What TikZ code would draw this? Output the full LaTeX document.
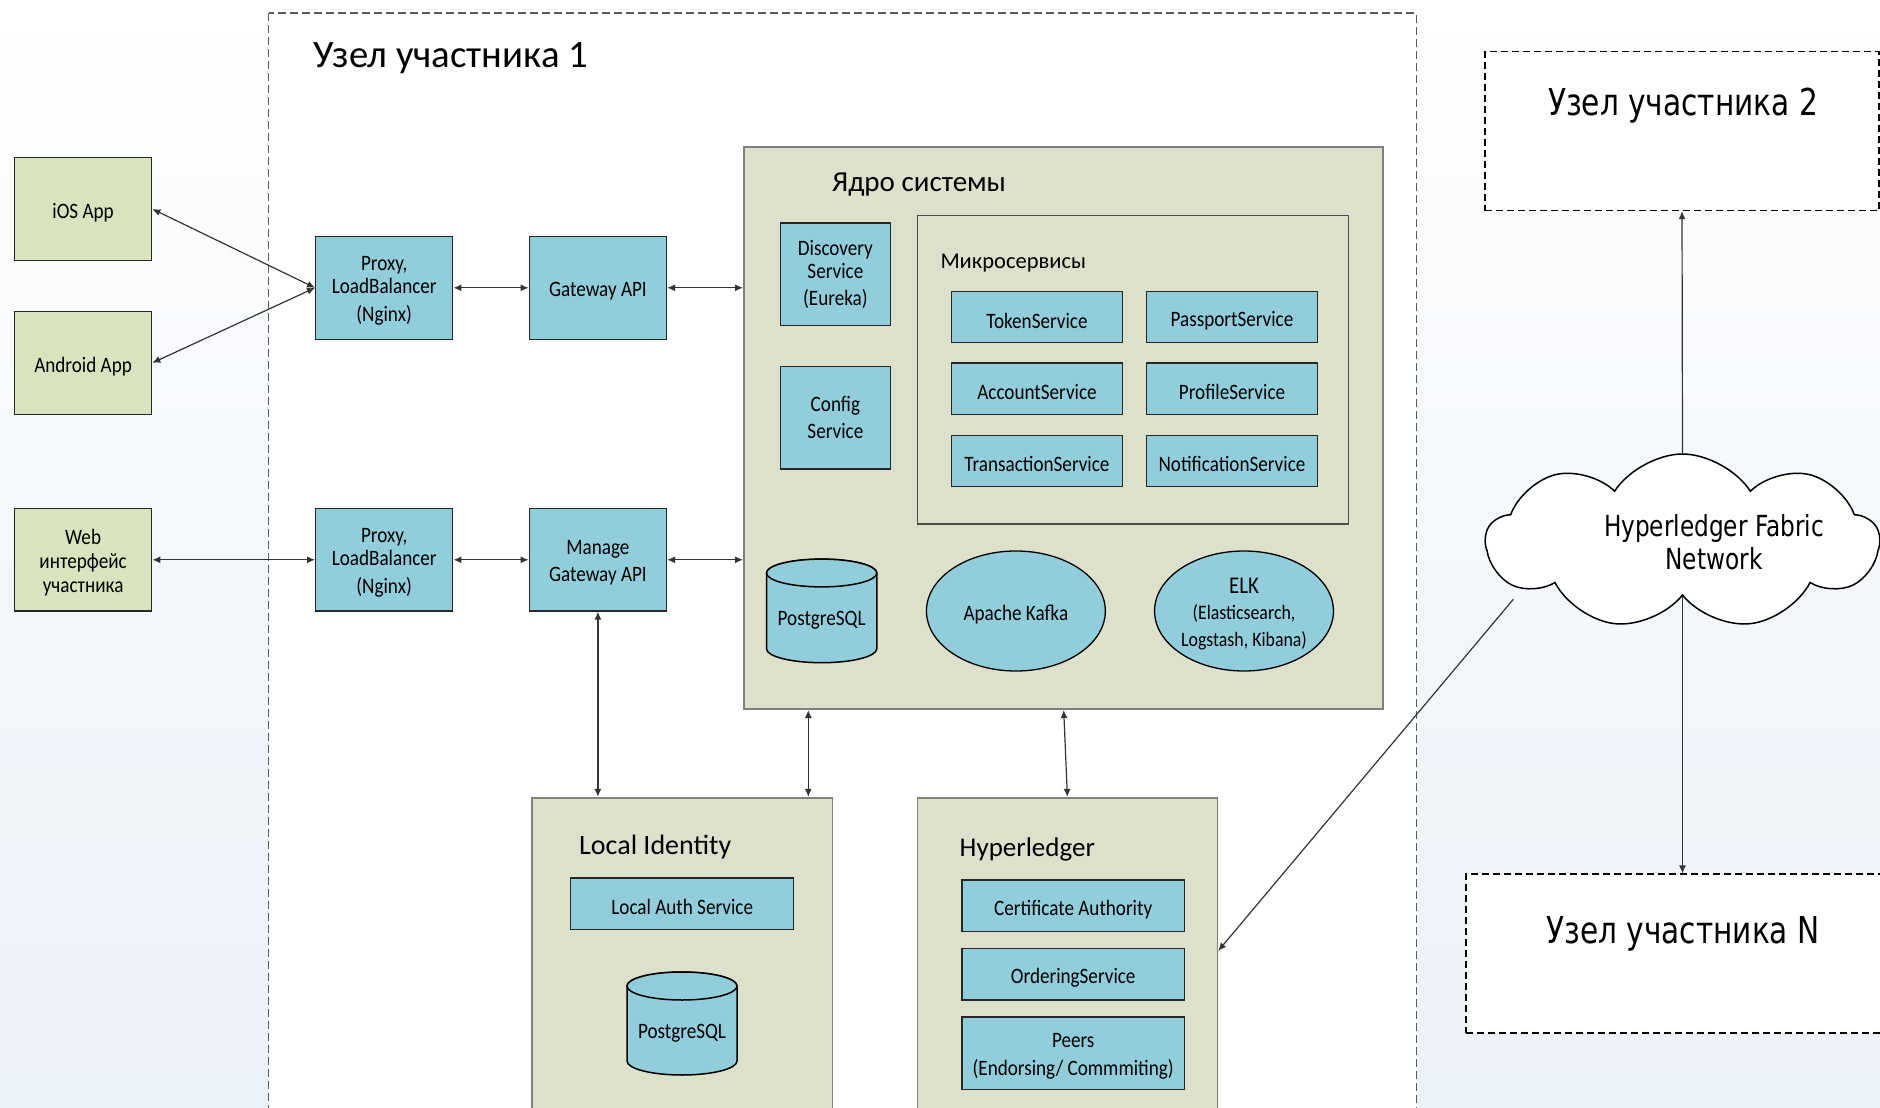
\documentclass[tikz,border=0pt]{standalone}
\usepackage{fontspec}
\setmainfont{Carlito}
\newfontfamily\lab{Carlito}[FakeStretch=0.87]
\newfontfamily\vfont{DejaVu Sans}[FakeStretch=0.8]
\usetikzlibrary{arrows.meta,shapes.symbols,shapes.geometric,calc}
\definecolor{gboxC}{HTML}{D7E4BD}
\definecolor{coreC}{HTML}{DDE0CB}
\definecolor{bboxC}{HTML}{92CDDC}
\definecolor{bgC}{HTML}{ECF2F9}
\tikzset{
  lbl/.style={font=\lab\fontsize{22}{23}\selectfont, align=center},
  tx/.style={label={[lbl, inner sep=0pt, yshift=-3.5pt]center:{#1}}},
  txm/.style={label={[lbl, inner sep=0pt, yshift=-3pt]center:{#1}}},
  gbx/.style={draw=black!85, line width=1.3pt, fill=gboxC, minimum width=137.2pt, minimum height=102.5pt, inner sep=0pt},
  bbx/.style={draw=black!85, line width=1.3pt, fill=bboxC, inner sep=0pt, lbl},
  contbox/.style={draw=black!50, line width=2pt, fill=coreC, inner sep=0pt},
  ttl/.style={inner sep=0pt, anchor=base west},
  cyl/.style={draw=black, line width=1.5pt, fill=bboxC},
  oval/.style={ellipse, draw=black, line width=1.3pt, fill=bboxC, inner sep=0pt, minimum width=178.9pt, minimum height=120pt},
  conn/.style={draw=black!80, line width=1.2pt, {Latex[length=8pt,width=7pt]}-{Latex[length=8pt,width=7pt]}},
  onearr/.style={draw=black!80, line width=1.2pt, -{Latex[length=8pt,width=7pt]}},
  rnode/.style={draw=black, line width=1.1pt, dash pattern=on 7pt off 4pt, fill=white, inner sep=0pt},
  rtitle/.style={font=\vfont\fontsize{37}{40}\selectfont, inner sep=0pt, anchor=base}
}
\begin{document}
\begin{tikzpicture}[x=1pt,y=-1pt]
\useasboundingbox (0,0) rectangle (1880,1108);
\clip (0,0) rectangle (1880,1108);
% background
\fill[top color=white, bottom color=bgC, middle color=white!40!bgC] (0,0) rectangle (1880,1108);
% outer participant node 1
\draw[draw=black!65, line width=1.5pt, dash pattern=on 8pt off 4pt, fill=white] (268.6,13.2) rectangle (1416.7,1130);
\node[ttl, font=\fontsize{38.8}{40}\selectfont] (t1) at (313,67) {Узел участника 1};

% clients
\node[gbx, tx={iOS App}] (ios) at (83.1,209) {};
\node[gbx, tx={Android App}] (android) at (83.1,362.9) {};
\node[gbx, txm={Web\\[1pt]интерфейс\\[1pt]участника}] (web) at (83.1,559.8) {};

% proxies and gateways
\node[bbx, minimum width=137.1pt, minimum height=102.9pt, txm={Proxy,\\LoadBalancer\\[5.6pt](Nginx)}] (px1) at (384.2,287.8) {};
\node[bbx, minimum width=137.2pt, minimum height=102.9pt, tx={Gateway API}] (gw) at (597.9,287.8) {};
\node[bbx, minimum width=137.1pt, minimum height=102.4pt, txm={Proxy,\\LoadBalancer\\[5.6pt](Nginx)}] (px2) at (384.2,559.8) {};
\node[bbx, minimum width=137.2pt, minimum height=102.4pt, txm={Manage\\[4.5pt]Gateway API}] (mg) at (597.9,559.8) {};

% core
\node[contbox, minimum width=638.7pt, minimum height=561.6pt] (core) at (1063.35,428.2) {};
\node[ttl, font=\fontsize{29}{32}\selectfont] (coret) at (832,191) {Ядро системы};
\node[bbx, minimum width=109.9pt, minimum height=102.4pt] (disc) at (835.4,274.1) {Discovery\\Service\\[4pt](Eureka)};
\node[bbx, minimum width=109.9pt, minimum height=102.5pt] (conf) at (835.4,417.7) {Config\\[4.4pt]Service};
\node[draw=black!70, line width=1.3pt, fill=coreC, inner sep=0pt, minimum width=430.6pt, minimum height=308.2pt] (micro) at (1132.9,369.9) {};
\node[ttl, font=\fontsize{22.5}{25}\selectfont] (microt) at (940.3,268.4) {Микросервисы};
\node[bbx, minimum width=171.3pt, minimum height=51.4pt, tx={TokenService}] (tok) at (1037,317) {};
\node[bbx, minimum width=170.8pt, minimum height=51.4pt, tx={PassportService}] (pass) at (1232,317) {};
\node[bbx, minimum width=171.3pt, minimum height=51.5pt, tx={AccountService}] (acc) at (1037,388.75) {};
\node[bbx, minimum width=170.8pt, minimum height=51.5pt, tx={ProfileService}] (prof) at (1232,388.75) {};
\node[bbx, minimum width=171.3pt, minimum height=51.1pt, tx={TransactionService}] (trans) at (1037,460.75) {};
\node[bbx, minimum width=170.8pt, minimum height=51.1pt, tx={NotificationService}] (notif) at (1232,460.75) {};

% postgres 1
\filldraw[cyl] (766.5,573) -- (766.5,648.8) arc[start angle=180,end angle=0,x radius=55.15,y radius=13.9] -- (876.8,573) arc[start angle=0,end angle=-180,x radius=55.15,y radius=13.9] -- cycle;
\filldraw[cyl] (821.65,573) ellipse[x radius=55.15,y radius=13.9];
\node[lbl, inner sep=0pt] (pg1) at (821.65,620) {PostgreSQL};

\node[oval, tx={Apache Kafka}] (kafka) at (1015.9,611) {};
\node[oval, label={[lbl, font=\lab\fontsize{20.5}{26.5}\selectfont, inner sep=0pt, yshift=-3pt]center:{{\fontsize{24}{26.5}\selectfont ELK}\\(Elasticsearch,\\Logstash, Kibana)}}] (elk) at (1244,611) {};

% local identity
\node[contbox, line width=1.6pt, minimum width=300.5pt, minimum height=322.3pt] (lid) at (682.25,958.85) {};
\node[ttl, font=\fontsize{28}{30}\selectfont] (lidt) at (579,854) {Local Identity};
\node[bbx, minimum width=222.9pt, minimum height=51.3pt, tx={Local Auth Service}] (auth) at (682.25,903.65) {};
\filldraw[cyl] (627,986) -- (627,1061) arc[start angle=180,end angle=0,x radius=55,y radius=14] -- (737,986) arc[start angle=0,end angle=-180,x radius=55,y radius=14] -- cycle;
\filldraw[cyl] (682,986) ellipse[x radius=55,y radius=14];
\node[lbl, inner sep=0pt] (pg2) at (682,1033.5) {PostgreSQL};

% hyperledger
\node[contbox, line width=1.6pt, minimum width=300pt, minimum height=322.3pt] (hl) at (1067.4,958.85) {};
\node[ttl, font=\fontsize{27}{30}\selectfont] (hlt) at (959.5,856) {Hyperledger};
\node[bbx, minimum width=222.4pt, minimum height=51.3pt, tx={Certificate Authority}] (ca) at (1073.2,905.65) {};
\node[bbx, minimum width=222.4pt, minimum height=51.7pt, tx={OrderingService}] (ord) at (1073.2,974.15) {};
\node[bbx, minimum width=222.4pt, minimum height=72.7pt, txm={Peers\\[4.7pt](Endorsing/ Commmiting)}] (peers) at (1073.2,1053.35) {};

% other participants
\node[rnode, minimum width=394pt, minimum height=159pt] (n2) at (1682,131.1) {};
\node[rtitle] (n2t) at (1683,115.2) {Узел участника 2};
\node[rnode, minimum width=416pt, minimum height=159pt] (nN) at (1674,953.5) {};
\node[rtitle] (nNt) at (1683,943.5) {Узел участника N};

\node[cloud, draw=black, line width=1.5pt, fill=white, cloud puffs=9, cloud puff arc=115, aspect=2.2, minimum width=393pt, minimum height=175pt, inner sep=0pt] (cloud) at (1682.5,541.5) {};
\node[font=\vfont\fontsize{29}{33}\selectfont, align=center, inner sep=0pt] (cloudt) at (1714,542) {Hyperledger Fabric\\Network};

% connectors
\draw[conn] (ios.east) -- (px1.west);
\draw[conn] (android.east) -- (px1.west);
\draw[conn] (px1) -- (gw);
\draw[conn] (gw.east) -- (gw.east -| core.west);
\draw[conn] (web) -- (px2);
\draw[conn] (px2) -- (mg);
\draw[conn] (mg.east) -- (mg.east -| core.west);
\draw[conn] (mg.south) -- (mg.south |- lid.north);
\coordinate (c1) at (808.3,0);
\draw[conn] (c1 |- core.south) -- (c1 |- lid.north);
\coordinate (c2) at (1063.7,0);
\draw[conn] (c2 |- core.south) -- (hl.north);
\draw[onearr] (cloud.north) -- (n2.south);
\draw[onearr] (cloud.south) -- (cloud.south |- nN.north);
\coordinate (cl) at (1513.3,599.3);
\draw[onearr] (cl) -- ($(hl.north east)+(0,154)$);
\end{tikzpicture}
\end{document}
